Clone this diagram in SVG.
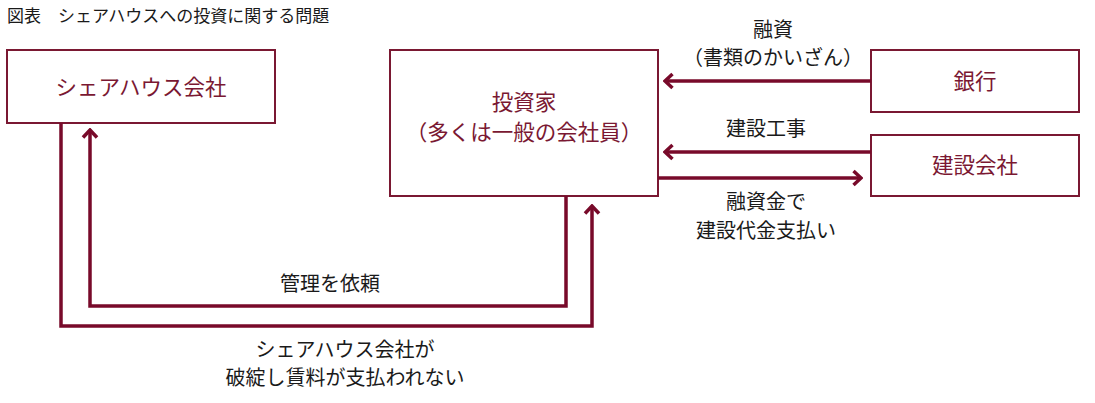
<svg xmlns="http://www.w3.org/2000/svg" width="1095" height="403" viewBox="0 0 1095 403">
<style>
.box{fill:#fff;stroke:#7a1832;stroke-width:2}
.nt{font-family:"Noto Sans CJK JP","Noto Sans",sans-serif;font-size:21.5px;fill:#7a1832;text-anchor:middle}
.lb{font-family:"Noto Sans CJK JP","Noto Sans",sans-serif;font-size:20px;fill:#1a1a1a;text-anchor:middle}
.ttl{font-family:"Noto Sans CJK JP","Noto Sans",sans-serif;font-size:17px;fill:#1a1a1a}
.cn{fill:none;stroke:#780a2a;stroke-width:3.5}
</style>
<defs>
<marker id="ah" viewBox="-11 -9 13 18" refX="0" refY="0" markerWidth="13" markerHeight="18" markerUnits="userSpaceOnUse" orient="auto">
<path d="M-7.5,-7 L0,0 L-7.5,7" fill="none" stroke="#780a2a" stroke-width="3.5"/>
</marker>
</defs>
<rect width="1095" height="403" fill="#fff"/>
<text class="ttl" x="7" y="22">図表　シェアハウスへの投資に関する問題</text>
<g id="sharehouse">
<rect class="box" x="7" y="50" width="268" height="73"/>
<text class="nt" x="141" y="95">シェアハウス会社</text>
</g>
<g id="investor">
<rect class="box" x="390" y="50" width="268" height="146"/>
<text class="nt" x="524" y="110">投資家</text>
<text class="nt" x="524" y="140">（多くは一般の会社員）</text>
</g>
<g id="bank">
<rect class="box" x="871" y="50" width="208" height="62"/>
<text class="nt" x="975" y="89">銀行</text>
</g>
<g id="construction">
<rect class="box" x="871" y="135" width="208" height="61"/>
<text class="nt" x="975" y="173">建設会社</text>
</g>
<g id="connectors">
<path class="cn" d="M871,81 H665" marker-end="url(#ah)"/>
<path class="cn" d="M871,152 H665" marker-end="url(#ah)"/>
<path class="cn" d="M658,178 H861" marker-end="url(#ah)"/>
<path class="cn" d="M566,196 V306 H90 V130" marker-end="url(#ah)"/>
<path class="cn" d="M61,123 V326 H592 V206" marker-end="url(#ah)"/>
<text class="lb" x="773" y="37">融資</text>
<text class="lb" x="773" y="65">（書類のかいざん）</text>
<text class="lb" x="766" y="136">建設工事</text>
<text class="lb" x="766" y="209">融資金で</text>
<text class="lb" x="766" y="238">建設代金支払い</text>
<text class="lb" x="330" y="291">管理を依頼</text>
<text class="lb" x="345" y="357">シェアハウス会社が</text>
<text class="lb" x="345" y="385">破綻し賃料が支払われない</text>
</g>
</svg>
